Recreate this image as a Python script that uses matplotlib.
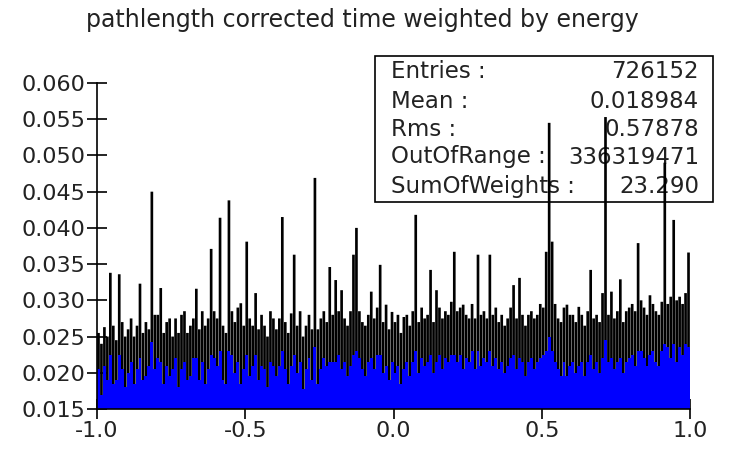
import numpy as np
import matplotlib
matplotlib.use("Agg")
import matplotlib.pyplot as plt
from matplotlib.patches import Rectangle

# Histogram of pathlength corrected time, 200 bins on [-1, 1]
x_min, x_max, n_bins = -1.0, 1.0, 200

# Bin contents (units of 1e-3)
bin_content = np.array([
    20.5, 17.0, 21.0, 19.0, 22.5, 18.5, 19.0, 22.5, 20.5, 18.0, 20.0, 21.5, 18.5, 20.5, 22.0, 19.0, 19.5, 21.0, 24.3, 20.5,
    22.0, 21.5, 18.5, 21.0, 19.5, 20.5, 22.0, 18.0, 20.5, 21.5, 19.0, 19.5, 22.0, 22.0, 19.0, 21.5, 18.5, 20.5, 22.5, 22.0,
    21.0, 23.0, 19.0, 18.5, 23.0, 22.5, 20.0, 21.5, 18.5, 20.5, 22.5, 19.5, 21.0, 22.5, 19.0, 21.0, 20.5, 18.0, 21.5, 21.0,
    19.5, 21.0, 23.0, 20.5, 18.5, 21.0, 22.5, 20.0, 21.5, 17.8, 20.5, 22.0, 19.0, 23.5, 18.5, 20.5, 22.0, 21.0, 21.5, 21.5,
    21.5, 22.5, 20.5, 21.5, 19.5, 21.0, 22.5, 23.0, 22.0, 20.5, 19.5, 21.5, 22.0, 20.5, 22.5, 22.5, 20.0, 21.0, 19.0, 21.5,
    20.0, 21.0, 18.5, 20.5, 21.5, 19.5, 21.5, 23.0, 20.0, 22.0, 21.0, 21.5, 22.5, 20.0, 21.5, 22.5, 20.5, 22.0, 21.5, 22.5,
    22.5, 21.5, 22.5, 20.5, 22.0, 21.5, 23.0, 20.5, 23.0, 21.0, 22.0, 21.5, 23.0, 21.0, 22.0, 20.5, 21.5, 20.0, 21.0, 22.0,
    22.5, 20.5, 22.0, 21.5, 19.5, 21.5, 22.0, 20.5, 21.5, 22.0, 22.5, 23.0, 25.0, 23.0, 21.5, 20.5, 19.5, 21.5, 19.5, 21.0,
    21.5, 20.0, 21.0, 21.5, 19.5, 21.5, 22.5, 20.5, 21.5, 20.0, 22.0, 24.5, 21.5, 22.0, 20.5, 21.5, 22.0, 20.0, 21.5, 22.0,
    22.5, 21.0, 23.0, 23.0, 22.0, 21.0, 22.5, 23.0, 21.5, 21.0, 23.0, 24.0, 23.5, 22.0, 24.0, 21.5, 23.5, 22.5, 24.0, 23.5,
]) * 1e-3

# Upper end of each bin's error bar (units of 1e-3)
error_top = np.array([
    25.5, 24.0, 26.3, 25.0, 33.8, 26.5, 24.5, 33.6, 27.0, 25.0, 26.0, 27.5, 25.0, 26.5, 32.3, 25.5, 27.0, 26.0, 45.0, 28.0,
    28.0, 31.7, 25.5, 27.0, 27.5, 25.0, 27.5, 25.5, 28.0, 28.5, 25.5, 26.5, 27.5, 31.6, 26.0, 28.5, 26.5, 27.5, 37.1, 28.5,
    27.5, 41.4, 26.5, 25.5, 43.8, 28.5, 27.0, 29.0, 29.6, 26.5, 38.1, 27.5, 26.5, 31.0, 26.0, 28.0, 26.5, 25.0, 28.5, 27.5,
    26.0, 27.5, 41.5, 27.0, 25.5, 28.2, 36.3, 26.5, 28.5, 25.0, 26.5, 28.0, 26.0, 46.9, 26.0, 27.5, 28.5, 27.0, 34.6, 28.0,
    32.8, 28.5, 31.4, 27.5, 26.5, 28.5, 36.3, 40.0, 28.5, 27.0, 26.5, 28.0, 31.2, 27.5, 29.0, 34.9, 27.0, 29.4, 26.0, 28.4,
    27.0, 28.0, 25.5, 27.7, 28.0, 26.5, 28.5, 41.8, 27.0, 29.0, 27.5, 28.0, 34.2, 27.0, 31.4, 29.0, 27.5, 28.5, 28.0, 29.8,
    36.7, 28.5, 29.0, 29.4, 28.0, 27.5, 29.5, 27.5, 36.3, 28.0, 28.5, 27.5, 36.3, 28.0, 29.0, 27.0, 28.0, 26.5, 27.5, 29.0,
    32.1, 27.5, 33.1, 28.0, 26.5, 28.0, 28.5, 27.5, 28.0, 29.5, 29.0, 36.7, 54.5, 38.1, 29.5, 27.5, 27.0, 29.0, 29.4, 28.0,
    28.0, 27.0, 29.1, 28.0, 26.5, 28.5, 34.2, 27.5, 28.0, 27.0, 31.0, 55.3, 28.0, 31.2, 27.5, 28.5, 32.9, 27.0, 28.5, 29.0,
    29.5, 28.5, 37.9, 30.0, 29.0, 28.0, 30.7, 29.5, 28.5, 28.0, 29.8, 49.0, 29.5, 30.5, 41.1, 30.0, 30.5, 29.5, 31.0, 36.6,
]) * 1e-3

x_ticks = [-1.0, -0.5, 0.0, 0.5, 1.0]
x_tick_labels = ["-1.0", "-0.5", "0.0", "0.5", "1.0"]
y_ticks = [0.015, 0.020, 0.025, 0.030, 0.035, 0.040, 0.045, 0.050, 0.055, 0.060]

stat_names = ["Entries :", "Mean :", "Rms :", "OutOfRange :", "SumOfWeights :"]
stat_values = ["726152", "0.018984", "0.57878", "336319471", "23.290"]

title = "pathlength corrected time weighted by energy"

edges = np.linspace(x_min, x_max, n_bins + 1)
centers = 0.5 * (edges[:-1] + edges[1:])
widths = np.diff(edges)
err = error_top - bin_content

W, H = 731, 454
fig = plt.figure(figsize=(W / 100, H / 100), dpi=100)
ax = fig.add_axes([97 / W, 1 - 409 / H, (690 - 97) / W, (409 - 83) / H])

# error bands (h - e .. h + e) first, filled bins painted over them
err_bars = ax.bar(centers, 2 * err, bottom=bin_content - err, width=0.9 * widths,
                  color="black", linewidth=0, zorder=1)
for patch in err_bars:
    patch.set_snap(False)
ax.bar(edges[:-1], bin_content, width=widths, align="edge",
       color="#0000ff", linewidth=0, zorder=2)

ax.set_xlim(x_min, x_max)
ax.set_ylim(0.015, 0.060)
ax.set_xticks(x_ticks)
ax.set_xticklabels(x_tick_labels)
ax.set_yticks(y_ticks)
ax.set_yticklabels([f"{v:.3f}" for v in y_ticks])
ax.tick_params(axis="both", direction="inout", length=15, width=1.2,
               labelsize=16, colors="black", labelcolor="#222222")
ax.tick_params(axis="y", pad=1)
ax.tick_params(axis="x", pad=1)

for side in ("top", "right"):
    ax.spines[side].set_visible(False)
for side in ("left", "bottom"):
    ax.spines[side].set_linewidth(1.2)
    ax.spines[side].set_zorder(3)

fig.text(362 / W, 1 - 20 / H, title, ha="center", va="center",
         fontsize=17, color="#222222")

# Statistics box, drawn beneath the histogram marks
box = Rectangle((375 / W, 1 - 202 / H), (713 - 375) / W, (202 - 56) / H,
                transform=fig.transFigure, fill=False, edgecolor="black",
                linewidth=1.2, zorder=0.5, clip_on=False)
ax.add_artist(box)
line_y = [72, 101, 129, 157, 186]
for name, val, yy in zip(stat_names, stat_values, line_y):
    ax.text(391 / W, 1 - yy / H, name, transform=fig.transFigure,
            ha="left", va="center", fontsize=16.5, color="#222222",
            zorder=0.5, clip_on=False)
    ax.text(699 / W, 1 - yy / H, val, transform=fig.transFigure,
            ha="right", va="center", fontsize=16.5, color="#222222",
            zorder=0.5, clip_on=False)

fig.savefig("out.png", dpi=100)
